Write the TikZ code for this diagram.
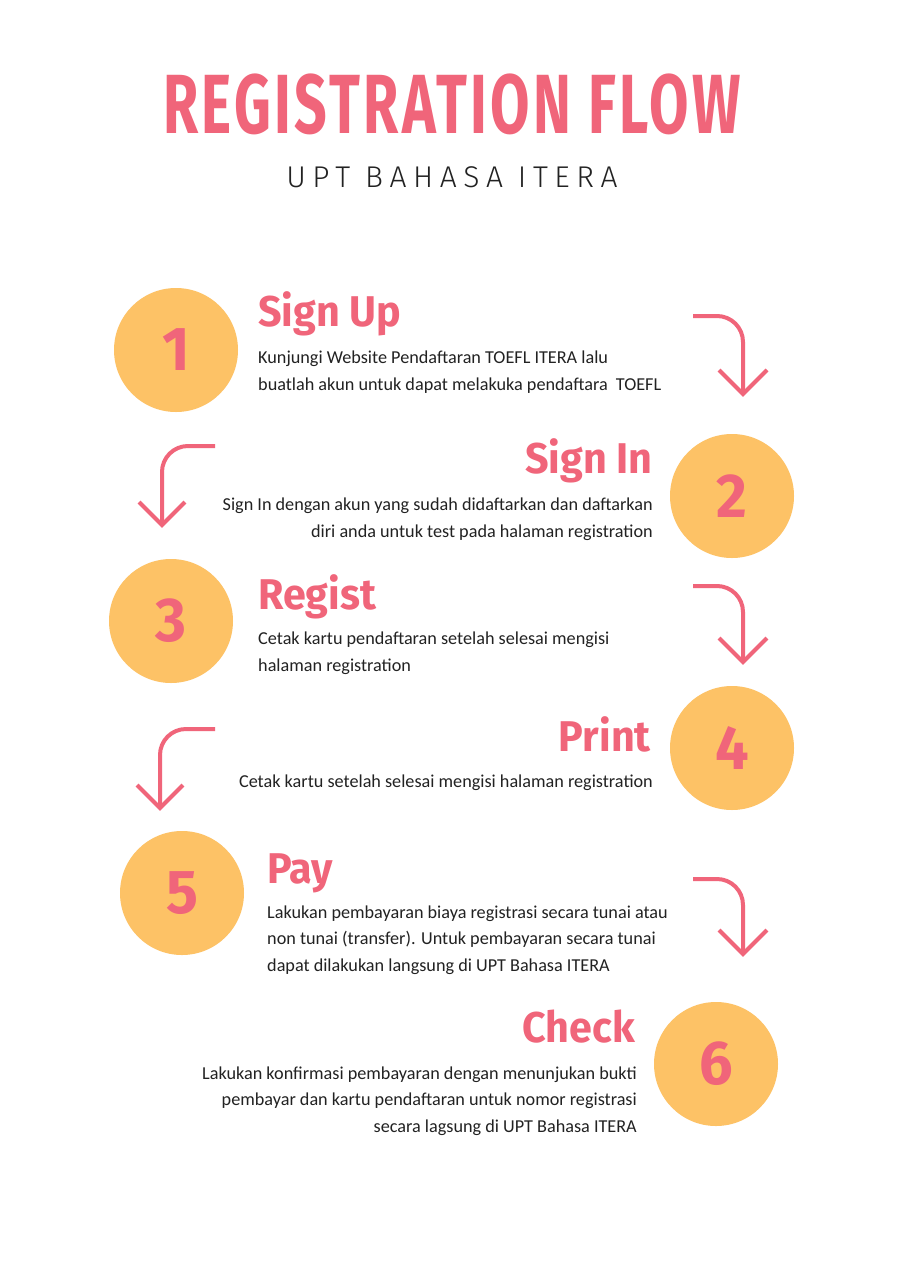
\documentclass[tikz,border=0pt]{standalone}
\usepackage{fontspec}
\setmainfont{Carlito}
\newfontfamily\headfont[FakeStretch=0.96]{Fira Sans}
\newfontfamily\titlefont[FakeStretch=0.68,LetterSpace=4]{Fira Sans}
\newfontfamily\subfont[LetterSpace=22]{Fira Sans Light}
\definecolor{pinkc}{HTML}{F0657A}
\definecolor{circc}{HTML}{FDC266}
\definecolor{txtc}{HTML}{222222}
\tikzset{
  stepcirc/.style={circle, fill=circc, minimum size=124pt, inner sep=0pt, text=pinkc,
    font=\headfont\bfseries\fontsize{62}{62}\selectfont},
  headtxt/.style={text=pinkc, inner sep=0pt, font=\headfont\bfseries\fontsize{43}{43}\selectfont},
  bodytxt/.style={text=txtc, inner sep=0pt, font=\fontsize{18.2}{26.5}\selectfont},
  flowarrow/.style={draw=pinkc, line width=4pt, rounded corners=26pt},
  flowhead/.style={draw=pinkc, line width=4pt, line join=miter}
}
\begin{document}
\begin{tikzpicture}[x=1pt,y=-1pt]
\useasboundingbox[fill=white] (0,0) rectangle (904,1280);
% title
\node[text=pinkc, inner sep=0pt, anchor=base, font=\titlefont\bfseries\fontsize{84}{84}\selectfont] (title) at (452,133) {REGISTRATION FLOW};
\node[text=txtc, inner sep=0pt, anchor=base, font=\subfont\fontsize{30}{30}\selectfont] (subtitle) at (452,187) {UPT BAHASA ITERA};
% circles
\node[stepcirc] (c1) at (176,350) {1};
\node[stepcirc] (c2) at (732,496) {2};
\node[stepcirc] (c3) at (171,621) {3};
\node[stepcirc] (c4) at (732,748) {4};
\node[stepcirc] (c5) at (182,893) {5};
\node[stepcirc] (c6) at (716,1064) {6};
% headings
\node[headtxt, anchor=base west] (h1) at (258,326) {Sign Up};
\node[headtxt, anchor=base east] (h2) at (653,473) {Sign In};
\node[headtxt, anchor=base west] (h3) at (258,609) {Regist};
\node[headtxt, anchor=base east] (h4) at (651,751) {Print};
\node[headtxt, anchor=base west] (h5) at (267,883) {Pay};
\node[headtxt, anchor=base east] (h6) at (635,1042) {Check};
% body texts (anchored at the baseline of their last line)
\node[bodytxt, anchor=base west, align=left] (t1) at (258,390) {Kunjungi Website Pendaftaran TOEFL ITERA lalu\\buatlah akun untuk dapat melakuka pendaftara\ \ TOEFL};
\node[bodytxt, anchor=base east, align=right] (t2) at (653,537) {Sign In dengan akun yang sudah didaftarkan dan daftarkan\\diri anda untuk test pada halaman registration};
\node[bodytxt, anchor=base west, align=left] (t3) at (258,671) {Cetak kartu pendaftaran setelah selesai mengisi\\halaman registration};
\node[bodytxt, anchor=base east, align=right] (t4) at (653,787) {Cetak kartu setelah selesai mengisi halaman registration};
\node[bodytxt, anchor=base west, align=left] (t5) at (267,971) {Lakukan pembayaran biaya registrasi secara tunai atau\\non tunai (transfer). Untuk pembayaran secara tunai\\dapat dilakukan langsung di UPT Bahasa ITERA};
\node[bodytxt, anchor=base east, align=right] (t6) at (637,1132) {Lakukan konfirmasi pembayaran dengan menunjukan bukti\\pembayar dan kartu pendaftaran untuk nomor registrasi\\secara lagsung di UPT Bahasa ITERA};
% arrows
\coordinate (a1s) at (693,316); \coordinate (a1c) at (743,316); \coordinate (a1e) at (743,394);
\draw[flowarrow] (a1s) -- (a1c) -- (a1e);
\draw[flowhead] (719,370) -- (a1e) -- (767,370);
\coordinate (a2s) at (215,446); \coordinate (a2c) at (162,446); \coordinate (a2e) at (162,525);
\draw[flowarrow] (a2s) -- (a2c) -- (a2e);
\draw[flowhead] (139,502) -- (a2e) -- (185,502);
\coordinate (a3s) at (693,586); \coordinate (a3c) at (743,586); \coordinate (a3e) at (743,662);
\draw[flowarrow] (a3s) -- (a3c) -- (a3e);
\draw[flowhead] (719,638) -- (a3e) -- (767,638);
\coordinate (a4s) at (215,729); \coordinate (a4c) at (160,729); \coordinate (a4e) at (160,808);
\draw[flowarrow] (a4s) -- (a4c) -- (a4e);
\draw[flowhead] (137,785) -- (a4e) -- (183,785);
\coordinate (a5s) at (693,879); \coordinate (a5c) at (743,879); \coordinate (a5e) at (743,954);
\draw[flowarrow] (a5s) -- (a5c) -- (a5e);
\draw[flowhead] (719,930) -- (a5e) -- (767,930);
\end{tikzpicture}
\end{document}
